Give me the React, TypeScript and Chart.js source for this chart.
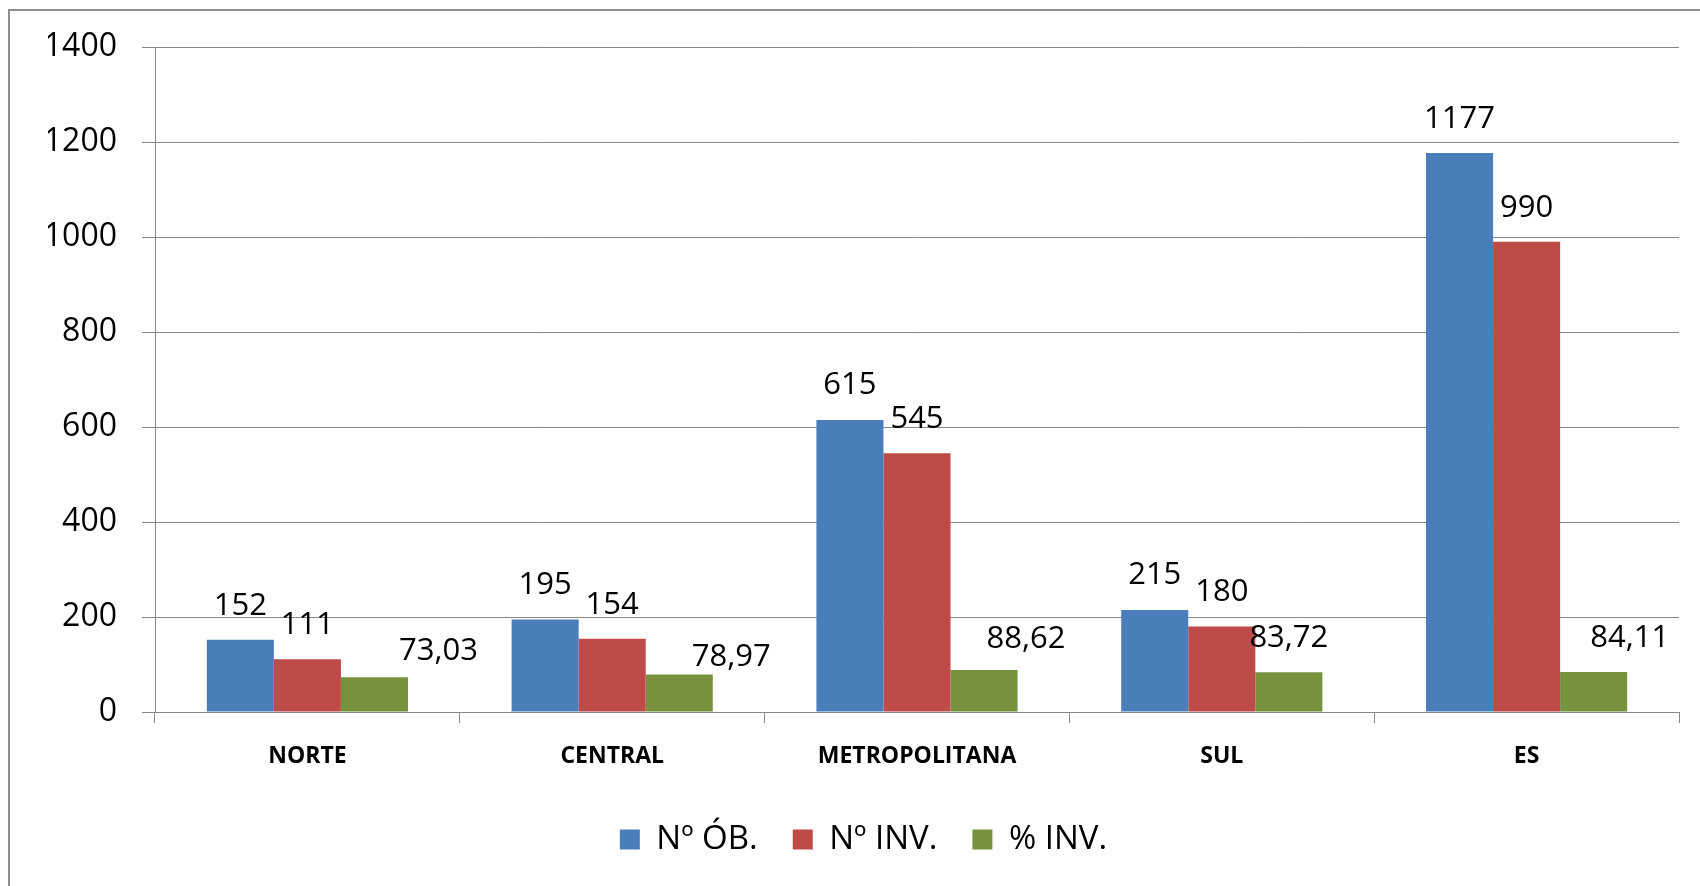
import React, { useEffect, useRef } from "react";
import { Chart, registerables } from "chart.js";

Chart.register(...registerables);

// ---- data ----
const categories = ["NORTE", "CENTRAL", "METROPOLITANA", "SUL", "ES"];
const seriesNames = ["Nº ÓB.", "Nº INV.", "% INV."];
const numObras = [152, 195, 615, 215, 1177];
const numInv = [111, 154, 545, 180, 990];
const pctInv = [73.03, 78.97, 88.62, 83.72, 84.11];
const yMin = 0;
const yMax = 1400;
const yStep = 200;

// ---- label placement (pixels, relative to bar top) ----
const labelDx = [
  [0, 0, 0, 0, 0],
  [0, 0, 0, 0, 0],
  [64, 52, 42, 0, 36],
];
const labelDy = [
  [34, 34, 35, 35, 34],
  [34, 34, 34, 34, 34],
  [26, 17, 31, 34, 34],
];

const colors = ["#4A7EBB", "#BE4B48", "#76923C"];
const GRID = "#878787";
const FONT = '"Open Sans", "Noto Sans", sans-serif';

const fmtInt = (v: number) => String(Math.round(v));
const fmtPct = (v: number) => v.toFixed(2).replace(".", ",");
const formatters = [fmtInt, fmtInt, fmtPct];

const valueLabels = {
  id: "valueLabels",
  afterDatasetsDraw(chart: any) {
    const ctx = chart.ctx;
    ctx.save();
    ctx.font = `500 31px ${FONT}`;
    ctx.fillStyle = "#000";
    ctx.textAlign = "center";
    ctx.textBaseline = "middle";
    chart.data.datasets.forEach((ds: any, di: number) => {
      const meta = chart.getDatasetMeta(di);
      meta.data.forEach((bar: any, i: number) => {
        ctx.fillText(
          formatters[di](ds.data[i]),
          bar.x + labelDx[di][i],
          bar.y - labelDy[di][i]
        );
      });
    });
    ctx.restore();
  },
};

export default function App() {
  const ref = useRef<HTMLCanvasElement | null>(null);

  useEffect(() => {
    if (!ref.current) return;
    const chart = new Chart(ref.current, {
      type: "bar",
      data: {
        labels: categories,
        datasets: [numObras, numInv, pctInv].map((d, i) => ({
          label: seriesNames[i],
          data: d,
          backgroundColor: colors[i],
          borderWidth: 0,
          categoryPercentage: 0.66,
          barPercentage: 1,
        })),
      },
      options: {
        responsive: false,
        animation: false,
        devicePixelRatio: 1,
        layout: { padding: { top: 47, right: 21, left: 48, bottom: 20 } },
        plugins: {
          tooltip: { enabled: false },
          legend: {
            position: "bottom",
            labels: {
              boxWidth: 20,
              boxHeight: 20,
              padding: 35,
              color: "#000",
              font: { family: FONT, size: 33, weight: "500" },
            },
          },
        },
        scales: {
          x: {
            grid: {
              display: true,
              drawOnChartArea: false,
              drawTicks: true,
              tickLength: 11,
              offset: true,
              color: GRID,
            },
            border: { display: true, color: GRID, width: 1 },
            ticks: {
              color: "#000",
              padding: 20,
              font: { family: FONT, size: 23, weight: "bold" },
            },
            afterFit: (s: any) => {
              s.height = 76;
            },
          },
          y: {
            min: yMin,
            max: yMax,
            grid: { color: GRID, tickLength: 13, drawTicks: true },
            border: { display: true, color: GRID, width: 1 },
            ticks: {
              stepSize: yStep,
              color: "#000",
              padding: 25,
              font: { family: FONT, size: 32, weight: "500" },
              callback: (v: any) => String(v),
            },
            afterFit: (s: any) => {
              s.width = 107;
            },
          },
        },
      },
      plugins: [valueLabels],
    });
    return () => chart.destroy();
  }, []);

  return (
    <div
      style={{
        position: "absolute",
        left: 0,
        top: 0,
        width: 1700,
        height: 886,
        overflow: "hidden",
        background: "#fff",
      }}
    >
      <div
        style={{
          position: "absolute",
          left: 8,
          top: 9,
          width: 1740,
          height: 920,
          border: "2px solid #8f8f8f",
          boxSizing: "border-box",
        }}
      />
      <canvas
        ref={ref}
        width={1700}
        height={886}
        style={{ position: "absolute", left: 0, top: 0, width: 1700, height: 886 }}
      />
    </div>
  );
}
